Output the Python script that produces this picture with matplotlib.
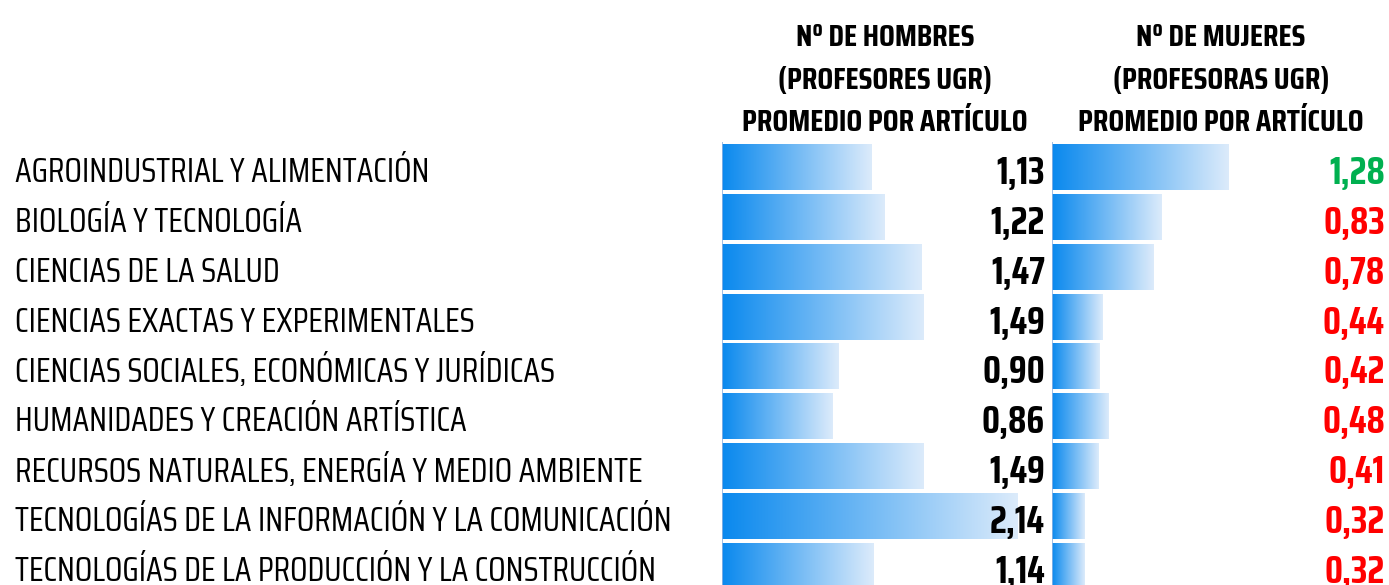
import matplotlib
matplotlib.use('Agg')
import matplotlib.pyplot as plt
import numpy as np
from matplotlib.colors import LinearSegmentedColormap
from matplotlib.transforms import blended_transform_factory

# data
areas = [
    'AGROINDUSTRIAL Y ALIMENTACIÓN',
    'BIOLOGÍA Y TECNOLOGÍA',
    'CIENCIAS DE LA SALUD',
    'CIENCIAS EXACTAS Y EXPERIMENTALES',
    'CIENCIAS SOCIALES, ECONÓMICAS Y JURÍDICAS',
    'HUMANIDADES Y CREACIÓN ARTÍSTICA',
    'RECURSOS NATURALES, ENERGÍA Y MEDIO AMBIENTE',
    'TECNOLOGÍAS DE LA INFORMACIÓN Y LA COMUNICACIÓN',
    'TECNOLOGÍAS DE LA PRODUCCIÓN Y LA CONSTRUCCIÓN',
]
hombres = [1.13, 1.22, 1.47, 1.49, 0.90, 0.86, 1.49, 2.14, 1.14]
mujeres = [1.28, 0.83, 0.78, 0.44, 0.42, 0.48, 0.41, 0.32, 0.32]
titulo_h = ['Nº DE HOMBRES', '(PROFESORES UGR)', 'PROMEDIO POR ARTÍCULO']
titulo_m = ['Nº DE MUJERES', '(PROFESORAS UGR)', 'PROMEDIO POR ARTÍCULO']

plt.rcParams['font.family'] = ['Saira Condensed', 'DejaVu Sans']

W, H = 1389, 585
fig = plt.figure(figsize=(W / 100, H / 100), dpi=100)

cmap = LinearSegmentedColormap.from_list('databar', ['#0a89ee', '#dcebfb'])
grad = np.linspace(0, 1, 256).reshape(1, -1)


def fmt(v):
    return '{:.2f}'.format(v).replace('.', ',')


def data_bars(px_left, px_right, xmin, xmax, values, colors):
    ax = fig.add_axes([px_left / W, 0, (px_right - px_left) / W, (H - 142) / H])
    n = len(values)
    for i, v in enumerate(values):
        ax.imshow(grad, cmap=cmap, aspect='auto', interpolation='bilinear',
                  extent=[xmin, v, i + 0.46, i - 0.46])
        ax.text(xmax, i + 0.05, fmt(v), ha='right', va='center_baseline',
                fontsize=27, fontweight='bold', color=colors[i])
    ax.axvline(xmin, color='#8db3e2', lw=1.2)
    ax.set_xlim(xmin, xmax)
    ax.set_ylim(n - 0.62, -0.5)
    ax.axis('off')
    return ax


colors_h = ['black'] * len(hombres)
colors_m = ['#00b050' if m > h else '#ff0000' for h, m in zip(hombres, mujeres)]

ax_h = data_bars(722, 1045, 0.093, 2.327, hombres, colors_h)
ax_m = data_bars(1052, 1385, 0.10, 2.32, mujeres, colors_m)

# category labels
trans = blended_transform_factory(fig.transFigure, ax_h.transData)
for i, a in enumerate(areas):
    ax_h.text(15 / W, i + 0.04, a, transform=trans, ha='left', va='center_baseline',
              fontsize=24.3, color='black', clip_on=False)

# column headers
for j, (th, tm) in enumerate(zip(titulo_h, titulo_m)):
    y = 1 - (34 + 43 * j) / H
    fig.text(885 / W, y, th, ha='center', va='center_baseline',
             fontsize=22.5, fontweight='bold')
    fig.text(1221 / W, y, tm, ha='center', va='center_baseline',
             fontsize=22.5, fontweight='bold')

fig.savefig('out.png', dpi=100)
